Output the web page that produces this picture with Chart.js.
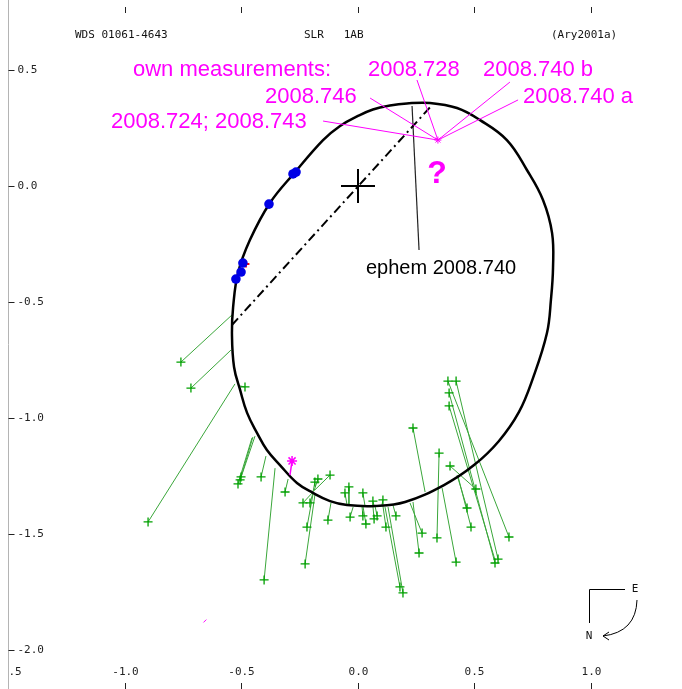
<!DOCTYPE html>
<html>
<head>
<meta charset="utf-8">
<script src="https://cdn.jsdelivr.net/npm/chart.js"></script>
<style>
  html, body { margin: 0; padding: 0; background: #fff; }
  #orbit { display: block; }
</style>
</head>
<body>
<canvas id="orbit" width="682" height="689"></canvas>
<script>
// tick labels
const xTicks = [-1.5, -1.0, -0.5, 0.0, 0.5, 1.0];
const yTicks = [0.5, 0.0, -0.5, -1.0, -1.5, -2.0];

// apparent orbit (read along the drawn ellipse, arcsec)
const orbit = [
  [0.064, 0.330], [0.137, 0.347], [0.210, 0.356], [0.309, 0.358], [0.425, 0.336], [0.524, 0.284],
  [0.639, 0.198], [0.725, 0.069], [0.794, -0.060], [0.833, -0.203], [0.837, -0.353],
  [0.828, -0.491], [0.811, -0.634], [0.751, -0.828], [0.691, -0.974], [0.605, -1.099],
  [0.498, -1.203], [0.369, -1.289], [0.202, -1.362], [0.073, -1.379], [-0.047, -1.375],
  [-0.120, -1.358], [-0.193, -1.323], [-0.262, -1.280], [-0.335, -1.203], [-0.391, -1.138],
  [-0.433, -1.065], [-0.476, -0.978], [-0.506, -0.879], [-0.532, -0.780], [-0.541, -0.634],
  [-0.536, -0.522], [-0.515, -0.375], [-0.464, -0.233], [-0.378, -0.073], [-0.270, 0.060],
  [-0.150, 0.198], [-0.077, 0.259], [0.000, 0.302], [0.064, 0.330]
];
const apsides = [[-0.541, -0.599], [0.318, 0.349]];
const ephem = [[0.232, 0.345], [0.262, -0.276]];

// speckle measures (blue) and the red one
const speckle = [[-0.266, 0.060], [-0.279, 0.052], [-0.382, -0.078], [-0.494, -0.332], [-0.502, -0.371], [-0.524, -0.401]];
const redMark = [[-0.481, -0.336]];

// visual measures: observed point -> other end of O-C line
const residuals = [
  [-0.760, -0.759, -0.541, -0.556], [-0.717, -0.871, -0.545, -0.707], [-0.901, -1.448, -0.528, -0.853],
  [-0.485, -0.866, -0.506, -0.862], [-0.502, -1.254, -0.451, -1.082], [-0.515, -1.284, -0.455, -1.086],
  [-0.506, -1.267, -0.442, -1.078], [-0.416, -1.254, -0.395, -1.164], [-0.403, -1.698, -0.356, -1.216],
  [-0.313, -1.319, -0.300, -1.263], [-0.120, -1.246, -0.185, -1.310], [-0.185, -1.276, -0.193, -1.319],
  [-0.172, -1.263, -0.189, -1.315], [-0.236, -1.366, -0.193, -1.319], [-0.206, -1.366, -0.193, -1.323],
  [-0.219, -1.470, -0.193, -1.328], [-0.227, -1.629, -0.185, -1.332], [-0.129, -1.440, -0.116, -1.366],
  [-0.056, -1.323, -0.047, -1.375], [-0.039, -1.297, -0.039, -1.375], [-0.034, -1.427, -0.021, -1.384],
  [0.021, -1.323, 0.030, -1.379], [0.021, -1.422, 0.017, -1.379], [0.034, -1.457, 0.021, -1.379],
  [0.064, -1.358, 0.069, -1.379], [0.082, -1.422, 0.073, -1.379], [0.069, -1.435, 0.064, -1.379],
  [0.107, -1.353, 0.103, -1.375], [0.120, -1.470, 0.107, -1.379], [0.163, -1.422, 0.150, -1.375],
  [0.180, -1.728, 0.116, -1.384], [0.193, -1.754, 0.129, -1.384], [0.236, -1.043, 0.288, -1.319],
  [0.348, -1.151, 0.339, -1.517], [0.395, -1.207, 0.506, -1.306], [0.468, -1.388, 0.425, -1.246],
  [0.485, -1.470, 0.429, -1.250], [0.421, -1.621, 0.361, -1.302], [0.262, -1.582, 0.236, -1.362],
  [0.275, -1.496, 0.223, -1.366], [0.386, -0.841, 0.648, -1.513], [0.421, -0.841, 0.601, -1.608],
  [0.391, -0.892, 0.588, -1.625], [0.391, -0.948, 0.588, -1.612]
];
const extraCrosses = [[0.339, -1.517], [0.506, -1.306], [0.648, -1.513], [0.601, -1.608], [0.588, -1.625]];

// magenta points
const pinkStar = [[-0.283, -1.185], [-0.292, -1.246]];
const pinkSpeck = [[-0.657, -1.875]];
const ownPos = [0.343, 0.198];
const ownLabels = ['2008.728', '2008.740 b', '2008.740 a', '2008.746', '2008.724; 2008.743'];
const ownLeads = [[0.253, 0.457], [0.652, 0.448], [0.687, 0.371], [0.052, 0.379], [-0.150, 0.280]];

const W = 682, H = 689;
// origin at px (358,186), 233 px/arcsec horizontally, 232 vertically
const xMin = -358 / 233, xMax = (W - 358) / 233;
const yMax = 186 / 232, yMin = (186 - H) / 232;

const pts = a => a.map(([x, y]) => ({ x, y }));
const GREEN_LINE = '#3aa63a', GREEN = '#00a000', PINK = '#ff00ff';

const lineSet = (data, color, width, extra) => Object.assign({
  data: pts(data), showLine: true, borderColor: color, borderWidth: width,
  pointRadius: 0, pointHoverRadius: 0, fill: false
}, extra || {});

// closed orbit: one extra point on each side so the spline has no corner at the join,
// the two outer segments are hidden
const orbitLoop = [orbit[orbit.length - 2], ...orbit, orbit[1]];
const lastSeg = orbitLoop.length - 1;

const datasets = [
  { data: pts(speckle), pointStyle: 'circle', pointRadius: 4.8, backgroundColor: '#0000e6', borderColor: '#0000e6', borderWidth: 0 },
  { data: pts(redMark), pointStyle: 'cross', pointRadius: 3.5, borderColor: '#f00', borderWidth: 2 },
  { data: pts([ownPos]), pointStyle: 'star', pointRadius: 3.5, borderColor: PINK, borderWidth: 1 },
  ...ownLeads.map(p => lineSet([p, ownPos], PINK, 1)),
  { data: pts([pinkStar[0]]), pointStyle: 'star', pointRadius: 5, borderColor: PINK, borderWidth: 1.5 },
  lineSet(pinkStar, PINK, 1.5),
  { data: pts(pinkSpeck), pointStyle: 'line', pointRadius: 2, rotation: -45, borderColor: PINK, borderWidth: 1 },
  { data: [{ x: 0, y: 0 }], pointStyle: 'cross', pointRadius: 17, borderColor: '#000', borderWidth: 2 },
  lineSet(orbitLoop, '#000', 2.5, {
    tension: 0.4,
    segment: {
      borderColor: c => (c.p0DataIndex === 0 || c.p1DataIndex === lastSeg) ? 'rgba(0,0,0,0)' : undefined
    }
  }),
  lineSet(apsides, '#000', 2, { borderDash: [9, 4, 2, 4] }),
  lineSet(ephem, '#222', 1.2),
  { data: pts(residuals.map(r => [r[0], r[1]]).concat(extraCrosses)), pointStyle: 'cross', pointRadius: 4.5, borderColor: GREEN, borderWidth: 1.3 },
  ...residuals.map(r => lineSet([[r[0], r[1]], [r[2], r[3]]], GREEN_LINE, 1))
];

const decor = {
  id: 'decor',
  afterDraw(chart) {
    const { ctx, scales: { x, y } } = chart;
    const seg = (x1, y1, x2, y2) => { ctx.beginPath(); ctx.moveTo(x1, y1); ctx.lineTo(x2, y2); ctx.stroke(); };
    ctx.save();
    const ax = Math.round(x.getPixelForValue(xTicks[0])) + 0.5;

    // left axis and y ticks
    ctx.strokeStyle = '#b4b4b4'; ctx.lineWidth = 1;
    seg(ax, 0, ax, H);
    ctx.strokeStyle = '#222';
    ctx.fillStyle = '#222';
    ctx.font = '11px "DejaVu Sans Mono", monospace';
    ctx.textBaseline = 'middle'; ctx.textAlign = 'left';
    yTicks.forEach(v => {
      const py = Math.round(y.getPixelForValue(v)) + 0.5;
      seg(ax, py, ax + 6, py);
      ctx.fillText(v.toFixed(1), ax + 9, py);
    });

    // x ticks top and bottom, labels clipped at the left axis
    ctx.save();
    ctx.beginPath(); ctx.rect(ax + 1, 0, W, H); ctx.clip();
    ctx.textAlign = 'center';
    xTicks.forEach(v => {
      const px = Math.round(x.getPixelForValue(v)) + 0.5;
      seg(px, 7, px, 13);
      seg(px, 683, px, H);
      ctx.fillText(v.toFixed(1), px, 672);
    });
    ctx.restore();

    // header
    ctx.textAlign = 'left';
    ctx.fillStyle = '#111';
    ctx.fillText('WDS 01061-4643', 75, 35);
    ctx.fillText('SLR   1AB', 304, 35);
    ctx.fillText('(Ary2001a)', 551, 35);

    // annotations
    ctx.fillStyle = PINK;
    ctx.font = '22px "Liberation Sans", Arial, sans-serif';
    ctx.fillText('own measurements:', 133, 70);
    ctx.fillText(ownLabels[0], 368, 70);
    ctx.fillText(ownLabels[1], 483, 70);
    ctx.fillText(ownLabels[2], 523, 97);
    ctx.fillText(ownLabels[3], 265, 97);
    ctx.fillText(ownLabels[4], 111, 122);
    ctx.font = 'bold 32px "Liberation Sans", Arial, sans-serif';
    ctx.textAlign = 'center';
    ctx.fillText('?', x.getPixelForValue(ownPos[0]) - 1, 174);

    ctx.fillStyle = '#000';
    ctx.textAlign = 'left';
    ctx.font = '20px "Liberation Sans", Arial, sans-serif';
    ctx.fillText('ephem 2008.740', 366, 268);

    // orientation sign
    ctx.strokeStyle = '#000'; ctx.lineWidth = 1;
    seg(589.5, 589.5, 625, 589.5);
    seg(589.5, 589.5, 589.5, 623);
    ctx.beginPath();
    ctx.moveTo(637, 600);
    ctx.quadraticCurveTo(636, 632, 603, 636);
    ctx.stroke();
    seg(603, 636, 609, 632);
    seg(603, 636, 609, 640);
    ctx.fillStyle = '#111';
    ctx.font = '11px "DejaVu Sans Mono", monospace';
    ctx.textAlign = 'center';
    ctx.fillText('E', 635, 589);
    ctx.fillText('N', 589, 636);
    ctx.restore();
  }
};

new Chart(document.getElementById('orbit'), {
  type: 'scatter',
  data: { datasets },
  options: {
    responsive: false,
    animation: false,
    events: [],
    layout: { padding: 0, autoPadding: false },
    plugins: { legend: { display: false }, tooltip: { enabled: false } },
    scales: {
      x: { type: 'linear', min: xMin, max: xMax, display: false },
      y: { type: 'linear', min: yMin, max: yMax, display: false }
    }
  },
  plugins: [decor]
});
</script>
</body>
</html>
